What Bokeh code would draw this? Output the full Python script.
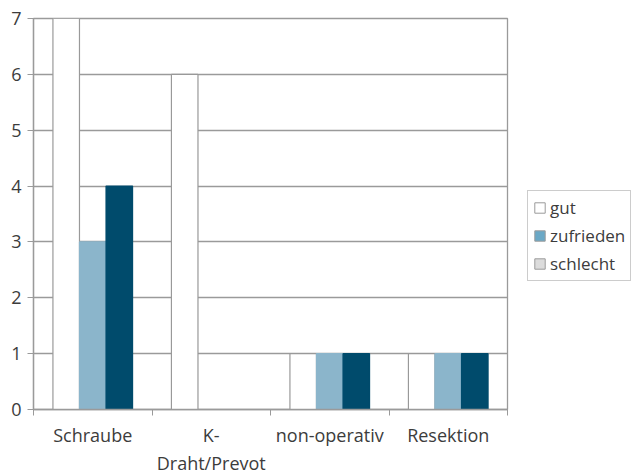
from bokeh.plotting import figure
from bokeh.models import ColumnDataSource, FixedTicker, Range1d, Legend, LegendItem
from bokeh.embed import file_html
from bokeh.resources import INLINE
import numpy as np

categories = ["Schraube", "K-\nDraht/Prevot", "non-operativ", "Resektion"]
series = ["gut", "zufrieden", "schlecht"]
gut = [7, 6, 1, 1]
zufrieden = [3, 0, 1, 1]
schlecht = [4, 0, 1, 1]
y_ticks = [0, 1, 2, 3, 4, 5, 6, 7]

bar_colors = ["#ffffff", "#8bb5cb", "#004b6c"]
bar_lines = ["#999999", "#8bb5cb", "#004b6c"]
legend_colors = ["#ffffff", "#6aa8c6", "#dcdcdc"]

FONT = "Open Sans"
GRAY = "#9a9a9a"
TEXT = "#3c3c3c"

centers = [i + 0.5 for i in range(len(categories))]
bw = 0.224

p = figure(frame_width=474, frame_height=391, output_backend="svg", toolbar_location=None,
           x_range=Range1d(0, len(categories)), y_range=Range1d(0, 7),
           min_border_left=33, min_border_right=0, min_border_top=18,
           min_border_bottom=0)
p.outline_line_color = GRAY
p.outline_line_width = 1.3
p.xgrid.grid_line_color = None
p.ygrid.grid_line_color = GRAY
p.ygrid.grid_line_width = 1.3
p.ygrid.ticker = FixedTicker(ticks=y_ticks)

values = [gut, zufrieden, schlecht]
for k, (name, vals) in enumerate(zip(series, values)):
    src = ColumnDataSource(dict(x=[c + (k - 1) * bw for c in centers], top=vals))
    p.vbar(x="x", top="top", bottom=0, width=bw, source=src,
           fill_color=bar_colors[k], line_color=bar_lines[k], line_width=1.2)

# legend-only renderers (placeholder row with no drawable values)
items = []
for k, name in enumerate(series):
    placeholder = ColumnDataSource(dict(x=np.array([np.nan]), top=np.array([np.nan])))
    r = p.vbar(x="x", top="top", bottom=0, width=bw, source=placeholder,
               fill_color=legend_colors[k], line_color=GRAY, line_width=1)
    items.append(LegendItem(label=name, renderers=[r]))
legend = Legend(items=items, location=(20, 128))
legend.label_text_font = FONT
legend.label_text_font_size = "17px"
legend.label_text_color = TEXT
legend.glyph_width = 13
legend.glyph_height = 13
legend.label_standoff = 4
legend.spacing = 5
legend.padding = 5
legend.margin = 0
legend.border_line_color = GRAY
legend.border_line_width = 1.3
legend.background_fill_alpha = 1
p.add_layout(legend, "right")

# x axis: labels at centers, ticks at category boundaries
p.xaxis.ticker = FixedTicker(ticks=centers, minor_ticks=list(range(len(categories) + 1)))
p.xaxis.major_label_overrides = {c: lab for c, lab in zip(centers, categories)}
p.xaxis.minor_tick_line_color = GRAY
p.xaxis.minor_tick_out = 6
p.xaxis.minor_tick_in = 0
p.xaxis.major_label_standoff = 7

p.yaxis.ticker = FixedTicker(ticks=y_ticks)
p.yaxis.minor_tick_line_color = None
p.yaxis.major_tick_out = 6
p.yaxis.major_tick_in = 0
p.yaxis.major_label_standoff = 6

for ax in (p.xaxis[0], p.yaxis[0]):
    ax.axis_line_color = GRAY
    ax.axis_line_width = 1.3
    ax.major_tick_line_color = GRAY if ax is p.yaxis[0] else None
    ax.major_label_text_font = FONT
    ax.major_label_text_font_size = "18px"
    ax.major_label_text_color = TEXT

open("out.html", "w").write(file_html(p, INLINE))
